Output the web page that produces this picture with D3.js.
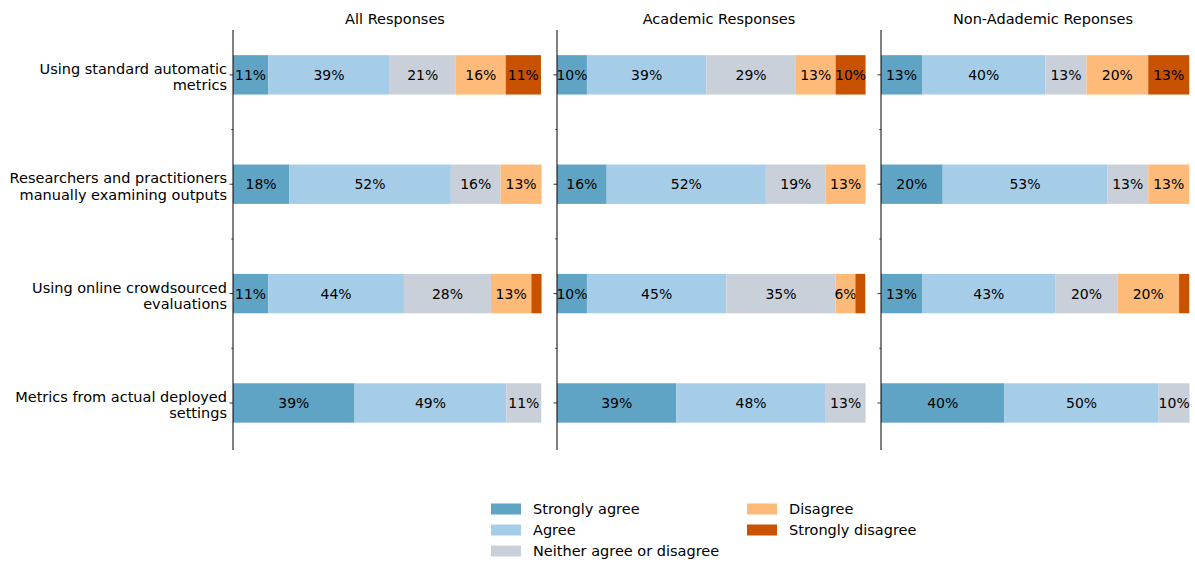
<!DOCTYPE html>
<html><head><meta charset="utf-8">
<script src="https://cdn.jsdelivr.net/npm/d3@7"></script>
<style>
body{margin:0;background:#fff;}
text{font-family:"DejaVu Sans",sans-serif;fill:#000;}
</style></head>
<body>
<svg id="c" width="1195" height="563"></svg>
<script>
const questions = [
  ["Using standard automatic", "metrics"],
  ["Researchers and practitioners", "manually examining outputs"],
  ["Using online crowdsourced", "evaluations"],
  ["Metrics from actual deployed", "settings"]
];
const panelTitles = ["All Responses", "Academic Responses", "Non-Adademic Reponses"];
const categories = ["Strongly agree", "Agree", "Neither agree or disagree", "Disagree", "Strongly disagree"];
const colors = ["#5fa3c5", "#a6cde8", "#c9d0da", "#fdba78", "#c95200"];

// rows: [strongly agree, agree, neither, disagree, strongly disagree] in percent
const allResponses = [
  [11.4, 39.4, 21.4, 16.2, 11.4],
  [18.2, 52.4, 16.1, 13.3, 0],
  [11.4, 44.0, 28.2, 13.1, 3.3],
  [39.4, 49.2, 11.3, 0, 0]
];
const academicResponses = [
  [9.7, 38.7, 29.0, 12.9, 9.7],
  [16.1, 51.6, 19.4, 12.9, 0],
  [9.7, 45.2, 35.4, 6.4, 3.2],
  [38.7, 48.4, 12.9, 0, 0]
];
const nonAcademicResponses = [
  [13.3, 40.0, 13.3, 20.0, 13.3],
  [20.0, 53.3, 13.3, 13.3, 0],
  [13.3, 43.3, 20.0, 20.0, 3.3],
  [40.0, 50.0, 10.0, 0, 0]
];
const panelData = [allResponses, academicResponses, nonAcademicResponses];

const svg = d3.select("#c");
const panelLefts = [233, 557, 881];
const panelW = 324;
const plotTop = 30, plotBottom = 450;
const y = d3.scaleLinear().domain([-0.41, 3.43]).range([plotTop, plotBottom]);
const barH = y(0.36) - y(0);

panelData.forEach((data, p) => {
  const g = svg.append("g").attr("transform", `translate(${panelLefts[p]},0)`);
  const x = d3.scaleLinear().domain([0, 105]).range([0, panelW]);
  g.append("text").attr("x", panelW / 2).attr("y", 19)
    .attr("text-anchor", "middle").attr("dominant-baseline", "central")
    .style("font-size", "14.5px").text(panelTitles[p]);
  data.forEach((row, r) => {
    let cum = 0;
    row.forEach((v, k) => {
      if (v <= 0) return;
      const x0 = x(cum), x1 = x(cum + v);
      g.append("rect").attr("x", x0).attr("y", y(r) - barH / 2)
        .attr("width", x1 - x0).attr("height", barH).attr("fill", colors[k]);
      if (v >= 5) {
        g.append("text").attr("x", (x0 + x1) / 2).attr("y", y(r))
          .attr("text-anchor", "middle").attr("dominant-baseline", "central")
          .style("font-size", "14px").text(Math.round(v) + "%");
      }
      cum += v;
    });
  });
  g.append("line").attr("x1", 0).attr("x2", 0).attr("y1", plotTop).attr("y2", plotBottom)
    .attr("stroke", "#000").attr("stroke-width", 1);
  [0, 1, 2, 3].forEach(i => {
    g.append("line").attr("x1", -3.5).attr("x2", 0).attr("y1", y(i)).attr("y2", y(i))
      .attr("stroke", "#000").attr("stroke-width", 0.8);
  });
  [0.5, 1.5, 2.5].forEach(i => {
    g.append("line").attr("x1", -2).attr("x2", 0).attr("y1", y(i)).attr("y2", y(i))
      .attr("stroke", "#000").attr("stroke-width", 0.6);
  });
});

questions.forEach((q, i) => {
  const t = svg.append("text").attr("text-anchor", "end").style("font-size", "14.5px");
  t.append("tspan").attr("x", 227).attr("y", y(i) - 6).attr("dominant-baseline", "central").text(q[0]);
  t.append("tspan").attr("x", 227).attr("y", y(i) + 10.5).attr("dominant-baseline", "central").text(q[1]);
});

const legPos = [[491, 509], [491, 530], [491, 551], [747, 509], [747, 530]];
categories.forEach((c, i) => {
  const [lx, ly] = legPos[i];
  svg.append("rect").attr("x", lx).attr("y", ly - 5.5).attr("width", 30).attr("height", 11).attr("fill", colors[i]);
  svg.append("text").attr("x", lx + 42).attr("y", ly).attr("dominant-baseline", "central")
    .style("font-size", "14.5px").text(c);
});
</script>
</body></html>
